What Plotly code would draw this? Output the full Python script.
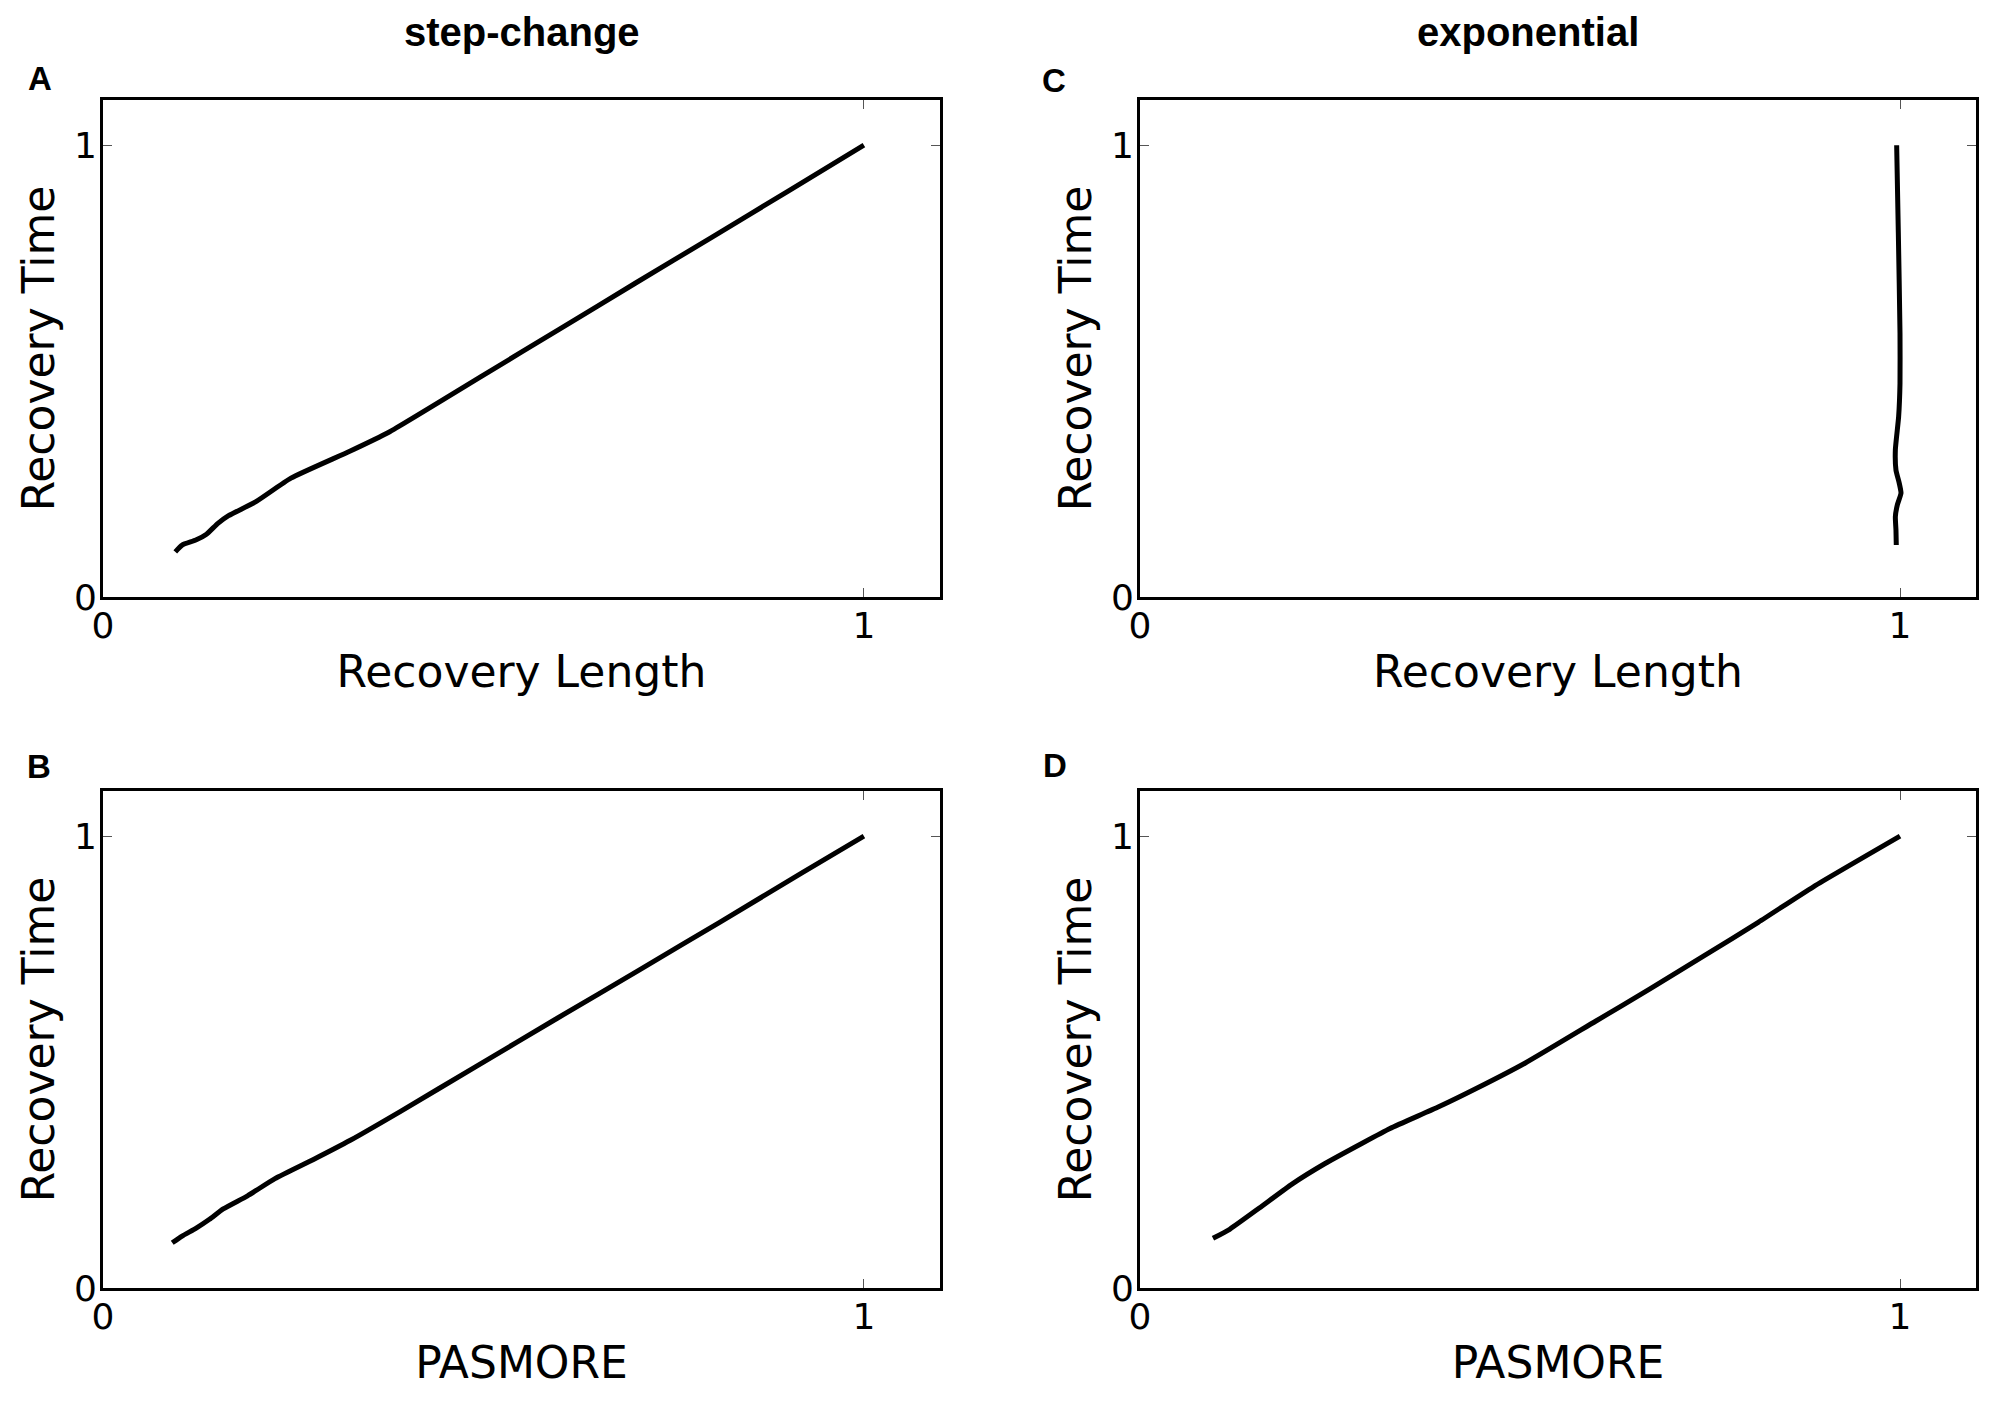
import plotly.graph_objects as go

# ---- data ----
a_x = [0.095, 0.104, 0.122, 0.136, 0.151, 0.165, 0.201, 0.247, 0.325, 0.375, 0.50, 0.60, 0.70, 0.80, 0.90, 1.0]
a_y = [0.100, 0.115, 0.126, 0.139, 0.163, 0.180, 0.211, 0.263, 0.323, 0.364, 0.491, 0.593, 0.695, 0.796, 0.898, 1.0]

b_x = [0.091, 0.104, 0.122, 0.140, 0.158, 0.190, 0.226, 0.276, 0.325, 0.390, 0.490, 0.597, 0.704, 0.811, 0.918, 1.0]
b_y = [0.100, 0.115, 0.132, 0.152, 0.175, 0.204, 0.242, 0.284, 0.327, 0.390, 0.490, 0.597, 0.703, 0.810, 0.918, 1.0]

c_x = [0.9956, 0.9978, 1.0, 1.0, 0.9982, 0.9939, 0.9947, 0.999, 1.0013, 0.9965, 0.9939, 0.9947, 0.9951]
c_y = [1.0, 0.806, 0.584, 0.473, 0.399, 0.326, 0.281, 0.252, 0.230, 0.204, 0.178, 0.148, 0.115]

d_x = [0.096, 0.118, 0.157, 0.200, 0.243, 0.293, 0.329, 0.393, 0.443, 0.507, 0.600, 0.671, 0.743, 0.814, 0.886, 1.0]
d_y = [0.110, 0.130, 0.177, 0.230, 0.275, 0.321, 0.353, 0.401, 0.442, 0.498, 0.591, 0.662, 0.736, 0.810, 0.888, 1.0]

column_titles = ["step-change", "exponential"]
panel_letters = ["A", "B", "C", "D"]
x_titles = ["Recovery Length", "PASMORE", "Recovery Length", "PASMORE"]
y_title = "Recovery Time"
tick_vals = [0, 1]
tick_text = ["0", "1"]

W, H = 2000, 1408
OFF = 8  # page body margin offset


def px(v):
    return (v - OFF) / W


def py(v):
    return 1 - (v - OFF) / H


xdom_left = [px(103), px(940)]
xdom_right = [px(1140), px(1976)]
ydom_top = [py(597), py(100)]
ydom_bot = [py(1288), py(791)]

series = [(a_x, a_y), (b_x, b_y), (c_x, c_y), (d_x, d_y)]
doms = [(xdom_left, ydom_top), (xdom_left, ydom_bot), (xdom_right, ydom_top), (xdom_right, ydom_bot)]

fig = go.Figure()
layout = {}
tick_font = dict(family="DejaVu Sans", size=36, color="black")
title_font = dict(family="DejaVu Sans", size=44, color="black")

for i, ((xs, ys), (xd, yd)) in enumerate(zip(series, doms)):
    n = "" if i == 0 else str(i + 1)
    fig.add_trace(go.Scatter(x=xs, y=ys, mode="lines",
                             line=dict(color="black", width=5, shape="spline", smoothing=0.5),
                             xaxis="x" + n, yaxis="y" + n, showlegend=False, hoverinfo="skip"))
    common = dict(range=[0, 1.1], showline=True, linecolor="black", linewidth=3, mirror="ticks",
                  ticks="inside", ticklen=9, tickwidth=1.2, tickcolor="#555555",
                  tickvals=tick_vals, ticktext=tick_text, tickfont=tick_font,
                  showgrid=False, zeroline=False, fixedrange=True, automargin=False)
    layout["xaxis" + n] = dict(common, domain=xd, anchor="y" + n, ticklabelstandoff=-5,
                               title=dict(text=x_titles[i], font=title_font, standoff=11))
    layout["yaxis" + n] = dict(common, domain=yd, anchor="x" + n, ticklabelstandoff=-4,
                               title=dict(text=y_title, font=title_font, standoff=6))

annots = []
title_font_b = dict(family="Liberation Sans", size=40, color="black")
annots.append(dict(x=px(522), y=1.0, text="<b>" + column_titles[0] + "</b>", showarrow=False,
                   xref="paper", yref="paper", xanchor="center", yanchor="top", font=title_font_b))
annots.append(dict(x=px(1528), y=1.0, text="<b>" + column_titles[1] + "</b>", showarrow=False,
                   xref="paper", yref="paper", xanchor="center", yanchor="top", font=title_font_b))
letter_pos = [(40, 79), (39, 766), (1054, 80), (1055, 765)]
for letter, (lx, ly) in zip(panel_letters, letter_pos):
    annots.append(dict(x=px(lx), y=py(ly), text="<b>" + letter + "</b>", showarrow=False,
                       xref="paper", yref="paper", xanchor="center", yanchor="middle",
                       font=dict(family="Liberation Sans", size=33, color="black")))

fig.update_layout(width=W, height=H, margin=dict(l=0, r=0, t=0, b=0, autoexpand=False),
                  paper_bgcolor="white", plot_bgcolor="white",
                  annotations=annots, **layout)

fig.write_html("out.html")
